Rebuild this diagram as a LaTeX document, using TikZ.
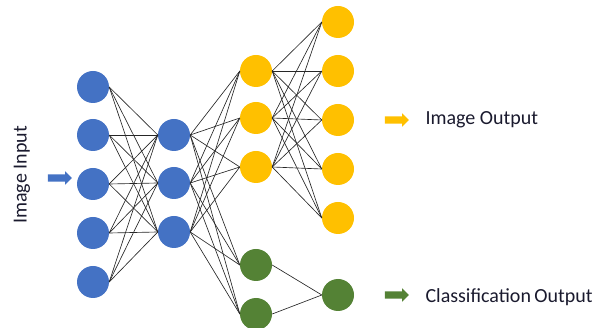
\documentclass[tikz,border=0pt]{standalone}
\usepackage{fontspec}
\setmainfont{Carlito}
\usetikzlibrary{shapes.arrows}

\definecolor{nnblue}{HTML}{4472C4}
\definecolor{nnyellow}{HTML}{FFC000}
\definecolor{nngreen}{HTML}{548235}
\definecolor{nntext}{HTML}{1A1A2E}

\tikzset{
  neuron/.style={circle, minimum size=32pt, inner sep=0pt},
  link/.style={draw=black!85, line width=0.65pt},
  fatarrow/.style={single arrow, minimum height=24pt, minimum width=12pt,
    single arrow head extend=3pt, inner xsep=0pt, inner ysep=3.5pt, draw=none},
  label/.style={text=nntext, font=\fontsize{20}{24}\selectfont}
}

\begin{document}
\begin{tikzpicture}[x=1pt, y=-1pt]
\useasboundingbox (0,0) rectangle (592,328);

% input layer
\foreach \i/\y in {1/87, 2/135, 3/184, 4/233, 5/282}
  \node[neuron, fill=nnblue] (in\i) at (93,\y) {};
% hidden layer
\foreach \i/\y in {1/135, 2/183, 3/232}
  \node[neuron, fill=nnblue] (hid\i) at (174,\y) {};
% image branch
\foreach \i/\y in {1/71, 2/118, 3/167}
  \node[neuron, fill=nnyellow] (img\i) at (256,\y) {};
\foreach \i/\y in {1/22, 2/71, 3/120, 4/169, 5/218}
  \node[neuron, fill=nnyellow] (out\i) at (338,\y) {};
% classification branch
\foreach \i/\y in {1/265, 2/314}
  \node[neuron, fill=nngreen] (cls\i) at (256,\y) {};
\node[neuron, fill=nngreen] (clsout) at (338,295) {};

\foreach \a in {1,...,5}
  \foreach \b in {1,2,3}
    \draw[link] (in\a.east) -- (hid\b.west);
\foreach \a in {1,2,3}
  \foreach \b in {1,2,3}
    \draw[link] (hid\a.east) -- (img\b.west);
\foreach \a in {1,2,3}
  \foreach \b in {1,2}
    \draw[link] (hid\a.east) -- (cls\b.west);
\foreach \a in {1,2,3}
  \foreach \b in {1,...,5}
    \draw[link] (img\a.east) -- (out\b.west);
\foreach \a in {1,2}
  \draw[link] (cls\a.east) -- (clsout.west);

% labels
\node[label, rotate=90] (inlabel) at (22,175) {Image Input};
\node[fatarrow, fill=nnblue] (inarrow) at (58,178) {};
\node[fatarrow, fill=nnyellow] (imgarrow) at (395,120) {};
\node[label, anchor=west] (imglabel) at (422,120) {Image Output};
\node[fatarrow, fill=nngreen] (clsarrow) at (395,295) {};
\node[label, anchor=west] (clslabel) at (422,297) {Classification\,Output};
\end{tikzpicture}
\end{document}
